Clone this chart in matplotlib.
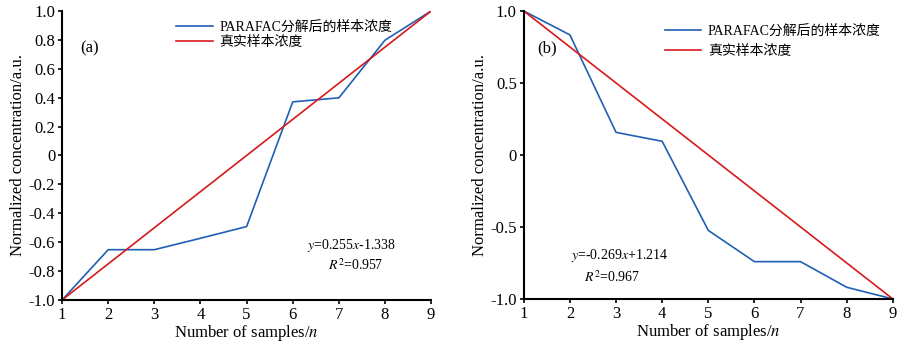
import matplotlib
matplotlib.use("Agg")
import matplotlib.pyplot as plt

plt.rcParams["font.family"] = ["Liberation Serif", "Noto Sans CJK SC"]
plt.rcParams["mathtext.fontset"] = "stix"

# Data
samples = [1, 2, 3, 4, 5, 6, 7, 8, 9]
parafac_a = [-1.0, -0.652, -0.652, -0.573, -0.492, 0.371, 0.399, 0.798, 1.0]
true_a = [-1.0, -0.75, -0.5, -0.25, 0.0, 0.25, 0.5, 0.75, 1.0]
parafac_b = [1.0, 0.834, 0.157, 0.095, -0.524, -0.741, -0.741, -0.919, -1.0]
true_b = [1.0, 0.75, 0.5, 0.25, 0.0, -0.25, -0.5, -0.75, -1.0]

yticks_a = [-1.0, -0.8, -0.6, -0.4, -0.2, 0, 0.2, 0.4, 0.6, 0.8, 1.0]
yticklabels_a = ["-1.0", "-0.8", "-0.6", "-0.4", "-0.2", "0", "0.2", "0.4", "0.6", "0.8", "1.0"]
yticks_b = [-1.0, -0.5, 0, 0.5, 1.0]
yticklabels_b = ["-1.0", "-0.5", "0", "0.5", "1.0"]

label_parafac = "PARAFAC分解后的样本浓度"
label_true = "真实样本浓度"
blue = "#1f5fb4"
red = "#d7191c"

fig = plt.figure(figsize=(9, 3.44), dpi=100)
ax_a = fig.add_axes([0.069, 0.128, 0.410, 0.840])
ax_b = fig.add_axes([0.582, 0.131, 0.410, 0.837])

for ax, blue_vals, red_vals, yt, ytl in [
    (ax_a, parafac_a, true_a, yticks_a, yticklabels_a),
    (ax_b, parafac_b, true_b, yticks_b, yticklabels_b),
]:
    ax.plot(samples, blue_vals, color=blue, lw=1.2, label=label_parafac)
    ax.plot(samples, red_vals, color=red, lw=1.2, label=label_true)
    ax.set_xlim(1, 9)
    ax.set_ylim(-1.0, 1.0)
    ax.set_xticks(samples)
    ax.set_yticks(yt)
    ax.set_yticklabels(ytl)
    ax.tick_params(direction="out", length=3, width=1.2, labelsize=12, pad=2)
    for s in ["top", "right"]:
        ax.spines[s].set_visible(False)
    for s in ["left", "bottom"]:
        ax.spines[s].set_linewidth(1.5)
    ax.set_xlabel("Number of samples/$n$", fontsize=12, labelpad=0)
    ax.set_ylabel("Normalized concentration/a.u.", fontsize=12, labelpad=2)

ax_a.legend(loc="upper left", bbox_to_anchor=(0.276, 1.01), frameon=False,
            fontsize=10, handlelength=2.6, handletextpad=0.5, labelspacing=0.15)
ax_b.legend(loc="upper left", bbox_to_anchor=(0.348, 0.997), frameon=False,
            fontsize=10, handlelength=2.6, handletextpad=0.5, labelspacing=0.55)

ax_a.text(1.39, 0.74, "(a)", fontsize=12, ha="left", va="center")
ax_b.text(1.30, 0.74, "(b)", fontsize=12, ha="left", va="center")

ax_a.text(7.27, -0.626, "$y$=0.255$x$-1.338", fontsize=10, ha="center", va="center")
ax_a.text(7.36, -0.758, "$R^2$=0.957", fontsize=10, ha="center", va="center")
ax_b.text(3.08, -0.70, "$y$=-0.269$x$+1.214", fontsize=10, ha="center", va="center")
ax_b.text(2.91, -0.85, "$R^2$=0.967", fontsize=10, ha="center", va="center")

fig.savefig("out.png", dpi=100)
